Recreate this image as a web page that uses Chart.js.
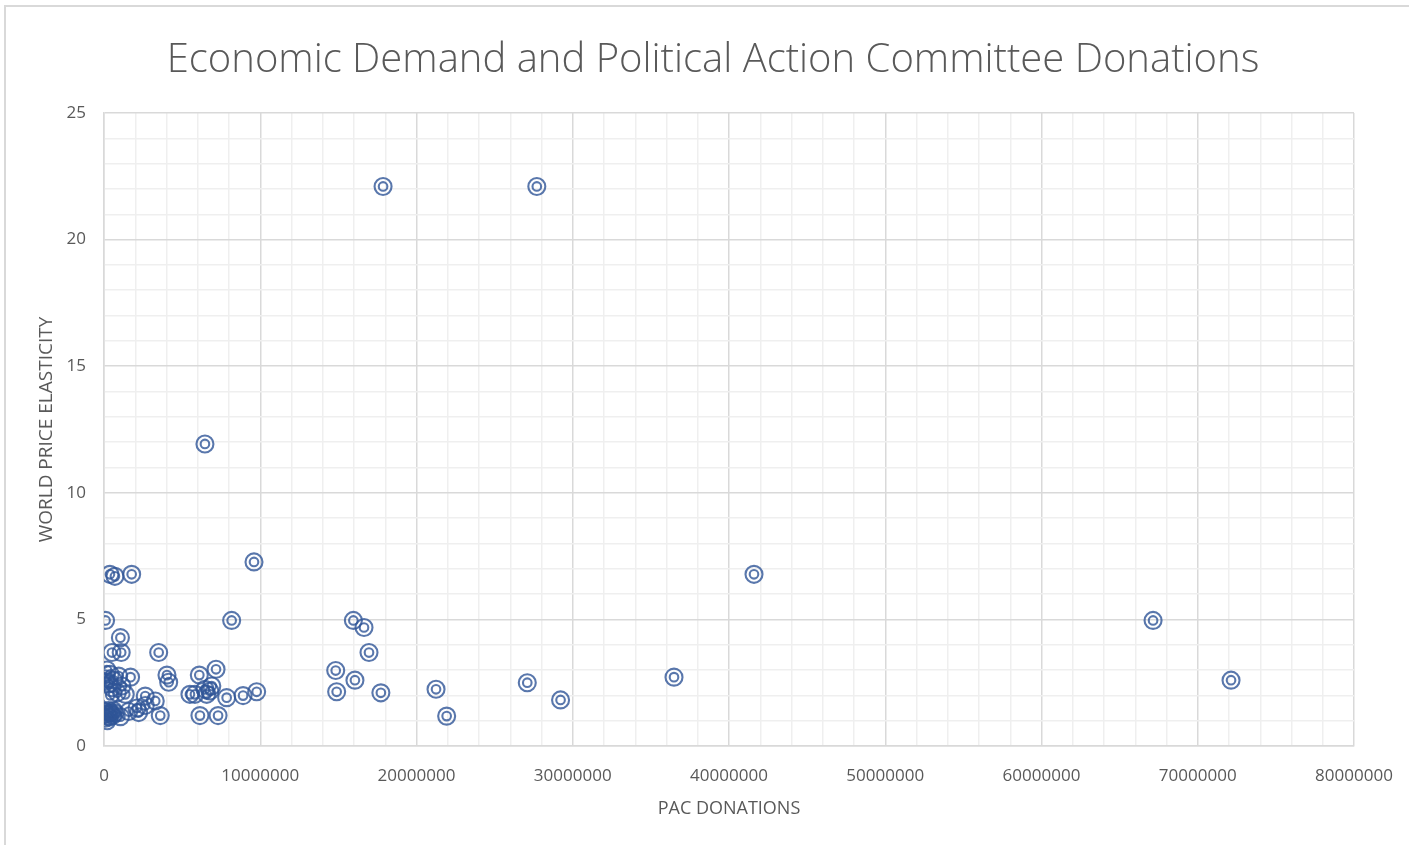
<!DOCTYPE html>
<html>
<head>
<meta charset="utf-8">
<title>Economic Demand and Political Action Committee Donations</title>
<script src="https://cdn.jsdelivr.net/npm/chart.js@4"></script>
<style>
  html, body { margin: 0; padding: 0; background: #fff; overflow: hidden; }
  #frame { position: absolute; left: 4px; top: 5px; width: 1600px; height: 1000px; border: 2px solid #d9d9d9; }
  #wrap { position: absolute; left: 0; top: 0; width: 1409px; height: 845px; }
</style>
</head>
<body>
<div id="frame"></div>
<div id="wrap"><canvas id="scatterChart"></canvas></div>
<script>
// PAC donations (x) and world price elasticity (y)
const pacDonations = [
    17860000, 27700000, 6460000, 9600000, 380000, 700000, 1770000, 41600000,
    100000, 8170000, 15960000, 16640000, 67140000, 1050000, 510000, 1100000,
    3500000, 16960000, 190000, 14830000, 7170000, 80000, 400000, 940000,
    1700000, 4030000, 4140000, 6100000, 16060000, 36480000, 72130000, 27090000,
    510000, 1150000, 400000, 850000, 1360000, 2640000, 3280000, 5500000,
    5820000, 6460000, 6780000, 6570000, 6900000, 7850000, 8900000, 9770000,
    14890000, 17720000, 21250000, 29220000, 2110000, 2640000, 3600000, 1580000,
    2220000, 1050000, 6140000, 7300000, 21930000, 50000, 100000, 150000,
    200000, 300000, 350000, 450000, 550000, 600000, 250000, 700000,
    120000, 600000, 300000
];
const priceElasticity = [
    22.1, 22.1, 11.93, 7.27, 6.78, 6.7, 6.78, 6.78,
    4.96, 4.96, 4.96, 4.68, 4.96, 4.28, 3.69, 3.69,
    3.69, 3.69, 3.0, 2.98, 3.03, 2.65, 2.83, 2.76,
    2.72, 2.8, 2.52, 2.8, 2.6, 2.72, 2.6, 2.5,
    2.3, 2.37, 2.0, 2.1, 2.04, 1.97, 1.78, 2.04,
    2.04, 2.24, 2.17, 2.04, 2.37, 1.91, 1.99, 2.14,
    2.14, 2.1, 2.24, 1.82, 1.5, 1.6, 1.2, 1.36,
    1.32, 1.16, 1.2, 1.2, 1.18, 1.35, 1.1, 1.25,
    1.0, 1.4, 1.15, 1.3, 1.2, 1.4, 1.3, 1.3,
    2.55, 2.6, 2.45
];
const xTickLabels = [0, 10000000, 20000000, 30000000, 40000000, 50000000, 60000000, 70000000, 80000000];
const yTickLabels = [0, 5, 10, 15, 20, 25];

const points = pacDonations.map((x, i) => ({ x: x, y: priceElasticity[i] }));
const markerColor = 'rgba(47, 85, 151, 0.8)';
const textColor = '#595959';
const fontFamily = "'Open Sans', 'Liberation Sans', sans-serif";

// the chart title sits a little right of the page centre
const titleShift = {
    id: 'titleShift',
    afterLayout(chart) {
        chart.titleBlock.left = 72;
        chart.titleBlock.right = chart.chartArea.right;
    }
};

const ctx = document.getElementById('scatterChart').getContext('2d');
const scatterChart = new Chart(ctx, {
    type: 'scatter',
    data: {
        datasets: [{
            label: 'Outer ring',
            data: points,
            pointRadius: 8.5,
            pointHoverRadius: 8.5,
            borderWidth: 2.1,
            borderColor: markerColor,
            backgroundColor: 'rgba(0, 0, 0, 0)'
        }, {
            label: 'Inner ring',
            data: points,
            pointRadius: 4.3,
            pointHoverRadius: 4.3,
            borderWidth: 2.1,
            borderColor: markerColor,
            backgroundColor: 'rgba(0, 0, 0, 0)'
        }]
    },
    options: {
        responsive: true,
        maintainAspectRatio: false,
        animation: false,
        layout: { padding: { left: 0, right: 55, top: 10, bottom: 25 } },
        plugins: {
            legend: { display: false },
            tooltip: { enabled: false },
            title: {
                display: true,
                text: 'Economic Demand and Political Action Committee Donations',
                color: textColor,
                font: { family: fontFamily, size: 40, weight: '300' },
                padding: { top: 27, bottom: 28 }
            }
        },
        scales: {
            x: {
                type: 'linear',
                min: 0,
                max: 80000000,
                afterBuildTicks: (scale) => {
                    const t = [];
                    for (let v = 0; v <= 80000000; v += 2000000) t.push({ value: v });
                    scale.ticks = t;
                },
                afterFit: (scale) => { scale.paddingRight = 0; },
                ticks: {
                    color: textColor,
                    font: { family: fontFamily, size: 17 },
                    padding: 20,
                    maxRotation: 0,
                    autoSkip: false,
                    callback: (v) => xTickLabels.includes(v) ? String(v) : ''
                },
                grid: {
                    drawTicks: false,
                    lineWidth: 1.5,
                    color: (c) => (c.tick && c.tick.value % 10000000 === 0) ? '#d9d9d9' : '#efefef'
                },
                border: { color: '#d9d9d9', width: 1.5 },
                title: {
                    display: true,
                    text: 'PAC DONATIONS',
                    color: textColor,
                    font: { family: fontFamily, size: 18 },
                    padding: { top: -8, bottom: 0 }
                }
            },
            y: {
                type: 'linear',
                min: 0,
                max: 25,
                afterBuildTicks: (scale) => {
                    const t = [];
                    for (let v = 0; v <= 25; v += 1) t.push({ value: v });
                    scale.ticks = t;
                },
                afterFit: (scale) => { scale.width = 104; },
                ticks: {
                    color: textColor,
                    font: { family: fontFamily, size: 17 },
                    padding: 18,
                    autoSkip: false,
                    callback: (v) => yTickLabels.includes(v) ? String(v) : ''
                },
                grid: {
                    drawTicks: false,
                    lineWidth: 1.5,
                    color: (c) => (c.tick && c.tick.value % 5 === 0) ? '#d9d9d9' : '#efefef'
                },
                border: { color: '#d9d9d9', width: 1.5 },
                title: {
                    display: true,
                    text: 'WORLD PRICE ELASTICITY',
                    color: textColor,
                    font: { family: fontFamily, size: 19 },
                    padding: { top: 35, bottom: 0 }
                }
            }
        }
    },
    plugins: [titleShift]
});
</script>
</body>
</html>
